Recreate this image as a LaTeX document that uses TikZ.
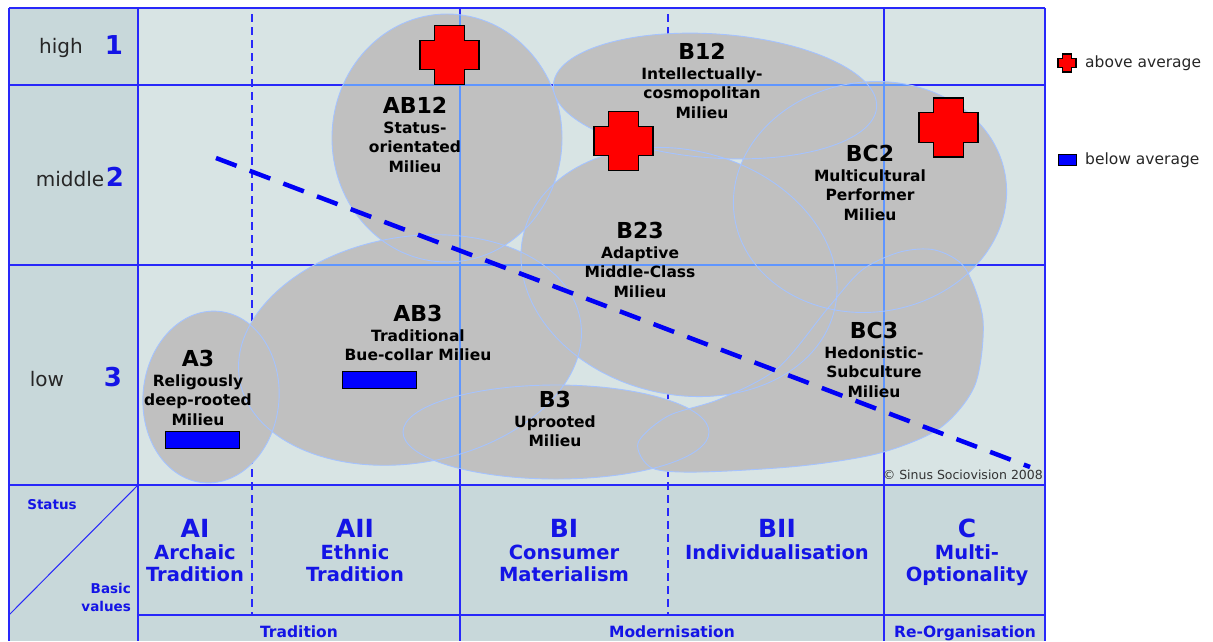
\documentclass[tikz,border=0pt]{standalone}
\usepackage{fontspec}
\setmainfont{DejaVu Sans}
\usetikzlibrary{positioning}
\definecolor{plotbg}{RGB}{216,228,228}
\definecolor{sidebg}{RGB}{200,216,218}
\definecolor{gridblue}{RGB}{40,40,250}
\definecolor{innerblue}{RGB}{95,150,255}
\definecolor{blobgray}{RGB}{192,192,192}
\definecolor{blobedge}{RGB}{165,195,255}
\definecolor{headblue}{RGB}{20,20,230}
\definecolor{trendblue}{RGB}{0,0,245}
\newcommand{\milieuhead}{\fontsize{22}{24}\selectfont}
\newcommand{\valuehead}{\fontsize{25}{27}\selectfont}
% all milieu blobs in one path (fill, clip, outline)
\newcommand{\milieupath}{%
  (447,138) ellipse [x radius=115, y radius=124]
  (715,96) ellipse [x radius=162, y radius=62, rotate=-4]
  (870,197) ellipse [x radius=137, y radius=115, rotate=8]
  (679,272) ellipse [x radius=160, y radius=122, rotate=-14]
  (410,350) ellipse [x radius=173, y radius=113, rotate=10]
  (211,397) ellipse [x radius=68, y radius=86, rotate=-5]
  (556,432) ellipse [x radius=153, y radius=47]
  plot[smooth cycle] coordinates {(638,443) (668,416) (720,399) (778,368) (828,308)
    (862,270) (900,252) (935,250) (965,268) (983,320) (975,385) (940,428)
    (880,453) (800,466) (700,472) (652,468)}
}
\tikzset{
  pics/plus/.style={% #1 = half width
    code={
      \draw[fill=red, draw=black, line width=1.3pt]
        (-#1/2,-#1) -- (#1/2,-#1) -- (#1/2,-#1/2) -- (#1,-#1/2) -- (#1,#1/2) -- (#1/2,#1/2)
        -- (#1/2,#1) -- (-#1/2,#1) -- (-#1/2,#1/2) -- (-#1,#1/2) -- (-#1,-#1/2) -- (-#1/2,-#1/2) -- cycle;
}}}
\tikzset{
  milieu/.style={fill=blobgray},
  milieuedge/.style={draw=blobedge, line width=0.9pt},
  gridline/.style={gridblue, line width=1.4pt},
  innerline/.style={innerblue, line width=1.2pt},
  valuedash/.style={gridblue, line width=2.4pt, dash pattern=on 8pt off 5pt},
  trend/.style={trendblue, line width=4.5pt, dash pattern=on 22pt off 14pt},
  milieulabel/.style={anchor=north, align=center, inner sep=0pt, font=\fontsize{15.5}{19.5}\selectfont\bfseries},
  lowbar/.style={draw=black, fill=blue, line width=1.2pt, minimum width=74pt, minimum height=17pt, inner sep=0pt},
  valuelabel/.style={anchor=north, align=center, inner sep=0pt, text=headblue, font=\fontsize{19.5}{22}\selectfont\bfseries},
  rowlabel/.style={anchor=base, inner sep=0pt, text=headblue, font=\fontsize{15.5}{18}\selectfont\bfseries},
  statuslevel/.style={anchor=base, inner sep=0pt, text=black!85, font=\fontsize{20}{24}\selectfont},
  statusnum/.style={anchor=base, inner sep=0pt, text=headblue, font=\fontsize{26}{30}\selectfont\bfseries},
  axislabel/.style={inner sep=0pt, text=headblue, font=\fontsize{13.5}{18}\selectfont\bfseries},
  legendtext/.style={anchor=base west, inner sep=0pt, text=black!85, font=\fontsize{15.5}{18}\selectfont}
}
\begin{document}
\begin{tikzpicture}[x=1pt, y=-1pt]
  \useasboundingbox (0,0) rectangle (1213,641);
  % backgrounds
  \fill[plotbg] (9,8) rectangle (1045,641);
  \fill[sidebg] (9,8) rectangle (138,641);
  \fill[sidebg] (138,485) rectangle (1045,641);
  % basic value borders
  \draw[valuedash] (252,14) -- (252,615);
  \draw[valuedash, line width=1.5pt] (668,14) -- (668,615);
  % grid
  \draw[gridline] (9,8) -- (1045,8);
  \draw[gridline] (9,85) -- (1045,85);
  \draw[gridline] (9,265) -- (1045,265);
  \draw[gridline] (9,485) -- (1045,485);
  \draw[gridline] (138,615) -- (1045,615);
  \foreach \x in {9,138,460,884,1045}
    \draw[gridline] (\x,8) -- (\x,641);
  \draw[gridblue, line width=1pt] (9,615) -- (138,485);
  % milieus
  \fill[milieu] \milieupath;
  \begin{scope}
    \clip \milieupath;
    \draw[innerline] (138,85) -- (1045,85);
    \draw[innerline] (138,265) -- (1045,265);
    \draw[innerline] (460,8) -- (460,485);
    \draw[innerline] (884,8) -- (884,485);
  \end{scope}
  \draw[milieuedge] \milieupath;
  \pic (cross1) at (449.5,55) {plus=29.5};
  \pic (cross2) at (623.5,141) {plus=29.5};
  \pic (cross3) at (948.5,127.5) {plus=29.5};
  \node[lowbar] (barab3) at (379.5,380) {};
  \node[lowbar] (bara3) at (202.5,440) {};
  % milieu labels
  \node[milieulabel] (ab12) at (415,97) {{\milieuhead AB12}\\Status-\\orientated\\Milieu};
  \node[milieulabel] (b12) at (702,43) {{\milieuhead B12}\\Intellectually-\\cosmopolitan\\Milieu};
  \node[milieulabel] (b23) at (640,222) {{\milieuhead B23}\\Adaptive\\Middle-Class\\Milieu};
  \node[milieulabel] (bc2) at (870,145) {{\milieuhead BC2}\\Multicultural\\Performer\\Milieu};
  \node[milieulabel] (bc3) at (874,322) {{\milieuhead BC3}\\Hedonistic-\\Subculture\\Milieu};
  \node[milieulabel] (ab3) at (418,305) {{\milieuhead AB3}\\Traditional\\Bue-collar Milieu};
  \node[milieulabel] (a3) at (198,350) {{\milieuhead A3}\\Religously\\deep-rooted\\Milieu};
  \node[milieulabel] (b3) at (555,391) {{\milieuhead B3}\\Uprooted\\Milieu};
  \node[anchor=base east, inner sep=0pt, text=black!80, font=\fontsize{12.5}{14}\selectfont] (copyright) at (1043,479) {© Sinus Sociovision 2008};
  % status axis
  \node[statuslevel] (high) at (61,53) {high};
  \node[statusnum] (one) at (114,54) {1};
  \node[statuslevel] (middle) at (70,186) {middle};
  \node[statusnum] (two) at (115,186) {2};
  \node[statuslevel] (low) at (47,386) {low};
  \node[statusnum] (three) at (113,386) {3};
  \node[axislabel, anchor=base] (status) at (52,509) {Status};
  \node[axislabel, anchor=north east, align=right] (basic) at (131,583) {Basic\\values};
  % basic values
  \node[valuelabel] (ai) at (195,519) {{\valuehead AI}\\Archaic\\Tradition};
  \node[valuelabel] (aii) at (355,519) {{\valuehead AII}\\Ethnic\\Tradition};
  \node[valuelabel] (bi) at (564,519) {{\valuehead BI}\\Consumer\\Materialism};
  \node[valuelabel] (bii) at (777,519) {{\valuehead BII}\\Individualisation};
  \node[valuelabel] (c) at (967,519) {{\valuehead C}\\Multi-\\Optionality};
  \node[rowlabel] (tradition) at (299,637) {Tradition};
  \node[rowlabel] (modern) at (672,637) {Modernisation};
  \node[rowlabel] (reorg) at (965,637) {Re-Organisation};
  % legend
  \pic (legendplus) at (1067,63) {plus=9};
  \node[legendtext] (above) at (1085,67) {above average};
  \node[draw=black, fill=blue, line width=1pt, minimum width=18pt, minimum height=11pt, inner sep=0pt] (legendbar) at (1067,160) {};
  \node[legendtext] (below) at (1085,164) {below average};
  % trend
  \coordinate (trendstart) at (216,158);
  \coordinate (trendend) at (1030,467);
  \draw[trend] (trendstart) -- (trendend);
\end{tikzpicture}
\end{document}
